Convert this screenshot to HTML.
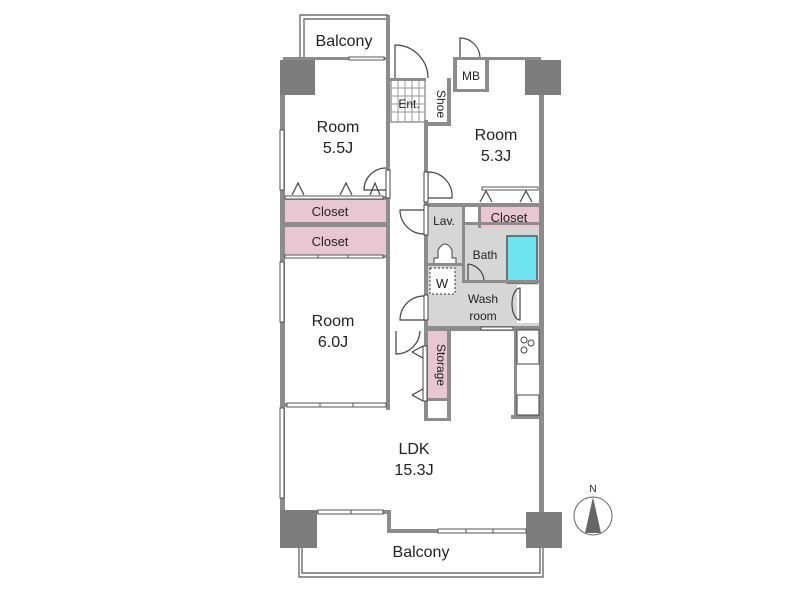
<!DOCTYPE html>
<html><head><meta charset="utf-8"><style>
html,body{margin:0;padding:0;background:#fff;width:800px;height:600px;overflow:hidden}
svg{display:block}
text{font-family:"Liberation Sans",sans-serif;fill:#222}
</style></head><body>
<svg width="800" height="600" viewBox="0 0 800 600" xmlns="http://www.w3.org/2000/svg">
<rect x="427" y="204" width="36" height="62" fill="#d6d6d6"/>
<rect x="465" y="224" width="75" height="58" fill="#d6d6d6"/>
<rect x="427" y="266" width="113" height="60" fill="#d6d6d6"/>
<rect x="507" y="236" width="30" height="47" fill="#6ee4f0" stroke="#555" stroke-width="1.5"/>
<rect x="517" y="285" width="23" height="38" fill="#fff"/>
<rect x="430" y="268" width="25" height="26" fill="#fff" stroke="#333" stroke-width="1" stroke-dasharray="2,2"/>
<text x="442" y="288" font-size="13" text-anchor="middle">W</text>
<rect x="471" y="205" width="10" height="8" fill="#fff"/>
<rect x="471" y="216" width="10" height="6" fill="#fff"/>
<path d="M438 250 q7 -12 14 0 v8 h4 v6 h-22 v-6 h4z" fill="#fff" stroke="#444" stroke-width="1"/>
<rect x="283" y="200" width="104" height="22" fill="#e8c6d2"/>
<rect x="283" y="227" width="104" height="29" fill="#e8c6d2"/>
<rect x="481" y="206" width="58" height="22" fill="#e8c6d2"/>
<rect x="428" y="331" width="19" height="70" fill="#e8c6d2"/>
<g stroke="#999" stroke-width="1">
<rect x="391" y="80" width="34" height="42" fill="#fff" stroke="#666"/>
<line x1="391" y1="88" x2="425" y2="88"/><line x1="391" y1="96" x2="425" y2="96"/><line x1="391" y1="104" x2="425" y2="104"/><line x1="391" y1="112" x2="425" y2="112"/>
<line x1="398" y1="80" x2="398" y2="122"/><line x1="405" y1="80" x2="405" y2="122"/><line x1="412" y1="80" x2="412" y2="122"/><line x1="419" y1="80" x2="419" y2="122"/>
</g>
<g fill="#8c8c8c">
<rect x="280" y="60" width="5" height="455"/>
<rect x="539" y="60" width="5" height="455"/>
<rect x="386" y="15" width="4" height="395"/>
<rect x="424" y="120" width="4" height="210"/>
<rect x="283" y="196" width="105" height="4"/>
<rect x="283" y="222" width="105" height="5"/>
<rect x="283" y="255" width="105" height="3"/>
<rect x="283" y="403" width="105" height="4"/>
<rect x="425" y="203" width="115" height="4"/>
<rect x="425" y="326" width="115" height="5"/>
<rect x="462" y="204" width="3" height="78"/>
<rect x="478" y="204" width="3" height="24"/>
<rect x="463" y="222" width="77" height="3"/>
<rect x="427" y="263" width="37" height="3"/>
<rect x="462" y="280" width="78" height="3"/>
<rect x="424" y="328" width="4" height="92"/>
<rect x="447" y="328" width="4" height="92"/>
<rect x="424" y="398" width="27" height="3"/>
<rect x="424" y="418" width="27" height="3"/>
<rect x="514" y="328" width="3" height="90"/>
<rect x="511" y="415" width="30" height="4"/>
<rect x="447" y="78" width="4" height="48"/>
<rect x="425" y="122" width="26" height="4"/>
<rect x="390" y="78" width="36" height="3"/>
<rect x="453" y="57" width="4" height="35"/>
<rect x="485" y="57" width="4" height="35"/>
<rect x="453" y="57" width="36" height="3"/>
<rect x="453" y="89" width="36" height="3"/>
<rect x="489" y="57" width="52" height="3"/>
<rect x="283" y="57" width="103" height="3"/>
<rect x="317" y="510" width="72" height="4"/>
<rect x="387" y="510" width="4" height="23"/>
<rect x="389" y="529" width="138" height="4"/>
</g>
<g fill="#7d7d7d">
<rect x="280" y="60" width="35" height="35"/>
<rect x="525" y="60" width="36" height="35"/>
<rect x="280" y="510" width="37" height="38"/>
<rect x="526" y="512" width="36" height="36"/>
</g>
<g fill="#fff" stroke="#555" stroke-width="1">
<rect x="280" y="130" width="4" height="60"/><rect x="280" y="262" width="4" height="60"/>
<rect x="280" y="408" width="4" height="90"/>
<rect x="318" y="510" width="33" height="4"/><rect x="351" y="510" width="32" height="4"/>
<rect x="438" y="529" width="28" height="4"/><rect x="466" y="529" width="27" height="4"/><rect x="493" y="529" width="33" height="4"/>
<rect x="287" y="403" width="33" height="4"/><rect x="320" y="403" width="33" height="4"/><rect x="353" y="403" width="33" height="4"/>
<rect x="285" y="196" width="98" height="3"/>
<rect x="285" y="255" width="33" height="3"/><rect x="318" y="255" width="30" height="3"/><rect x="348" y="255" width="35" height="3"/>
<rect x="482" y="187" width="56" height="3"/>
<rect x="481" y="327" width="32" height="3"/>
<rect x="349" y="57" width="35" height="3"/>
</g>
<g fill="none" stroke="#555" stroke-width="1.2">
<path d="M300 57 V15 H388"/><path d="M304 57 V19 H386"/>
<path d="M299 548 V577 H543 V548"/><path d="M302 548 V573 H540 V548"/>
</g>
<g fill="none" stroke="#444" stroke-width="1.2">
<path d="M395 78 V45 A33 33 0 0 1 428 78"/>
<path d="M460 57 V38 A20 20 0 0 1 480 57"/>
<path d="M386 168 A22 22 0 0 0 364 190 H386"/>
<path d="M428 172 V198 H452 A24 24 0 0 0 428 172"/>
<path d="M424 210 H400 A24 24 0 0 0 424 234"/>
<path d="M424 296 A24 24 0 0 0 400 320 H424"/>
<path d="M396 331 V354 A24 24 0 0 0 420 331"/>
<path d="M468 264 V280 M468 264 A18 18 0 0 1 484 280"/>
<path d="M520 288 A8 16 0 0 0 520 320 Z"/>
<path d="M292 195 l6 -12 l6 12 M340 195 l6 -12 l6 12 M370 195 l5 -12 l5 12 M480 202 l6 -11 l6 11 M520 202 l6 -11 l6 11 M412 352 l11 -6 M412 352 l11 6 M412 395 l11 -6 M412 395 l11 6"/>
</g>
<g fill="#fff" stroke="#444" stroke-width="1">
<rect x="386" y="170" width="4" height="28"/><rect x="424" y="172" width="4" height="30"/>
<rect x="424" y="205" width="4" height="30"/><rect x="424" y="295" width="4" height="25"/>
<rect x="423" y="346" width="4" height="55"/>
<rect x="517" y="330" width="22" height="34"/><rect x="517" y="395" width="22" height="20"/>
</g>
<g fill="none" stroke="#444" stroke-width="1"><circle cx="524" cy="340" r="3"/><circle cx="531" cy="343" r="3"/><circle cx="524" cy="350" r="3"/></g>
<text x="344" y="46" font-size="16" text-anchor="middle">Balcony</text>
<text x="409" y="108" font-size="12" text-anchor="middle">Ent.</text>
<text x="437" y="104" font-size="12" text-anchor="middle" transform="rotate(90 437 104)">Shoe</text>
<text x="471" y="80" font-size="12" text-anchor="middle">MB</text>
<text x="338" y="132" font-size="16" text-anchor="middle">Room</text>
<text x="338" y="153" font-size="16" text-anchor="middle">5.5J</text>
<text x="496" y="140" font-size="16" text-anchor="middle">Room</text>
<text x="496" y="161" font-size="16" text-anchor="middle">5.3J</text>
<text x="330" y="216" font-size="13" text-anchor="middle" fill="#4a2a35">Closet</text>
<text x="330" y="246" font-size="13" text-anchor="middle" fill="#4a2a35">Closet</text>
<text x="509" y="222" font-size="13" text-anchor="middle" fill="#4a2a35">Closet</text>
<text x="444" y="225" font-size="12" text-anchor="middle">Lav.</text>
<text x="485" y="259" font-size="12" text-anchor="middle">Bath</text>
<text x="483" y="303" font-size="12" text-anchor="middle">Wash</text>
<text x="483" y="320" font-size="12" text-anchor="middle">room</text>
<text x="437" y="365" font-size="12" text-anchor="middle" transform="rotate(90 437 365)">Storage</text>
<text x="333" y="326" font-size="16" text-anchor="middle">Room</text>
<text x="333" y="347" font-size="16" text-anchor="middle">6.0J</text>
<text x="414" y="454" font-size="16" text-anchor="middle">LDK</text>
<text x="414" y="475" font-size="16" text-anchor="middle">15.3J</text>
<text x="421" y="557" font-size="16" text-anchor="middle">Balcony</text>
<text x="593" y="492" font-size="10" text-anchor="middle" fill="#555">N</text>
<circle cx="593" cy="516" r="19" fill="none" stroke="#666" stroke-width="1"/>
<path d="M593 497 L585 533 H601 Z" fill="#666"/>
</svg>
</body></html>
